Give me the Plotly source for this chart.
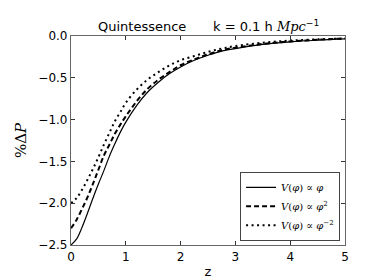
import plotly.graph_objects as go

z = [0, 0.1, 0.2, 0.3, 0.4, 0.5, 0.6, 0.7, 0.8, 0.9, 1.0, 1.2, 1.4, 1.6, 1.8, 2.0,
     2.25, 2.5, 2.75, 3.0, 3.5, 4.0, 4.5, 5.0]
dp_phi = [-2.50, -2.43, -2.29, -2.12, -1.94, -1.77, -1.61, -1.44, -1.29, -1.15, -1.03,
          -0.83, -0.67, -0.55, -0.45, -0.37, -0.29, -0.23, -0.18, -0.15, -0.10, -0.07,
          -0.05, -0.035]
dp_phi2 = [-2.30, -2.20, -2.07, -1.93, -1.77, -1.60, -1.43, -1.30, -1.17, -1.06, -0.96,
           -0.78, -0.63, -0.52, -0.43, -0.35, -0.28, -0.22, -0.17, -0.14, -0.095, -0.065,
           -0.045, -0.03]
dp_phim2 = [-2.00, -1.94, -1.84, -1.72, -1.59, -1.45, -1.30, -1.16, -1.02, -0.91, -0.80,
            -0.64, -0.52, -0.43, -0.35, -0.29, -0.24, -0.19, -0.15, -0.12, -0.08, -0.055,
            -0.04, -0.03]
names = ["<i>V</i>(<i>φ</i>) ∝ <i>φ</i>",
         "<i>V</i>(<i>φ</i>) ∝ <i>φ</i><sup>2</sup>",
         "<i>V</i>(<i>φ</i>) ∝ <i>φ</i><sup>−2</sup>"]
x_ticks = [0, 1, 2, 3, 4, 5]
y_ticks = [0.0, -0.5, -1.0, -1.5, -2.0, -2.5]

fig = go.Figure()
fig.add_trace(go.Scatter(x=z, y=dp_phi, mode="lines", name=names[0],
                         line=dict(color="black", width=1.2, shape="spline")))
fig.add_trace(go.Scatter(x=z, y=dp_phi2, mode="lines", name=names[1],
                         line=dict(color="black", width=2, dash="5px,3px", shape="spline")))
fig.add_trace(go.Scatter(x=z, y=dp_phim2, mode="lines", name=names[2],
                         line=dict(color="black", width=2, dash="2px,3.5px", shape="spline")))

axis_common = dict(showgrid=False, zeroline=False, ticks="inside", ticklen=4,
                   tickcolor="#333", showline=True, linecolor="#666", linewidth=1.2,
                   mirror="allticks", tickfont=dict(family="DejaVu Sans", size=12, color="black"))

fig.update_layout(
    width=374, height=280,
    margin=dict(l=63, r=37, t=28, b=43),
    paper_bgcolor="white", plot_bgcolor="white",
    showlegend=True,
    legend=dict(x=0.982, y=0.02, xanchor="right", yanchor="bottom",
                bgcolor="white", bordercolor="#444", borderwidth=1,
                font=dict(family="DejaVu Serif", size=10, color="black"),
                tracegroupgap=0),
    xaxis=dict(range=[0, 5], tickvals=x_ticks, ticktext=[str(v) for v in x_ticks],
               title=dict(text="z", font=dict(family="DejaVu Sans", size=13, color="black"),
                          standoff=4),
               **axis_common),
    yaxis=dict(range=[-2.5, 0.0], tickvals=y_ticks, tickformat=".1f",
               title=dict(text="%Δ<i>P</i>", font=dict(family="DejaVu Serif", size=15, color="black"),
                          standoff=8),
               **axis_common),
)
fig.add_annotation(text="Quintessence", xref="paper", yref="paper", x=0.259, y=1.0,
                   xanchor="center", yanchor="bottom", showarrow=False,
                   font=dict(family="DejaVu Sans", size=13, color="black"))
fig.add_annotation(text="k = 0.1 h <span style=\"font-family:DejaVu Serif\"><i>Mpc</i></span><sup>−1</sup>",
                   xref="paper", yref="paper", x=0.511, y=1.0,
                   xanchor="left", yanchor="bottom", showarrow=False,
                   font=dict(family="DejaVu Sans", size=13, color="black"))
fig.write_html("out.html")
